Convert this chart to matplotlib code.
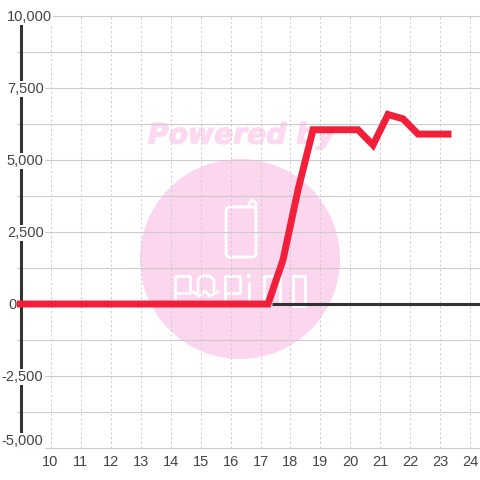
import matplotlib
matplotlib.use("Agg")
import matplotlib.pyplot as plt
import matplotlib.patheffects as pe
from matplotlib.patches import Circle, FancyBboxPatch

plt.rcParams['font.family'] = ['Liberation Sans', 'DejaVu Sans']

hours = [8.75, 9.25, 9.75, 10.25, 10.75, 11.25, 11.75, 12.25, 12.75, 13.25, 13.75, 14.25, 14.75,
         15.25, 15.75, 16.25, 16.75, 17.25, 17.75, 18.25, 18.75, 19.25, 19.75, 20.25, 20.75,
         21.25, 21.75, 22.25, 22.75, 23.25]
values = [0, 0, 0, 0, 0, 0, 0, 0, 0, 0, 0, 0, 0,
          0, 0, 0, 0, 0, 1530, 3960, 6050, 6050, 6050, 6050, 5520,
          6580, 6430, 5900, 5900, 5900]
x_ticks = list(range(10, 25))
y_major = [10000, 7500, 5000, 2500, 0, -2500, -5000]
y_labels = ['10,000', '7,500', '5,000', '2,500', '0', '-2,500', '-5,000']
y_minor = [8750, 6250, 3750, 1250, -1250, -3750]

W = 480
fig = plt.figure(figsize=(4.8, 4.8), dpi=100, facecolor='white')
bg = fig.add_axes([0, 0, 1, 1], zorder=0)
bg.set_xlim(0, W); bg.set_ylim(W, 0); bg.axis('off')
PINK = '#fbd6ee'
bg.add_patch(Circle((240, 259), 100, fc=PINK, ec='none'))
bg.text(241.5, 135.5, 'Powered by', family='DejaVu Sans', weight='bold', style='oblique',
        fontsize=20.3, color='#fcd9f0', ha='center', va='center',
        path_effects=[pe.withStroke(linewidth=0.9, foreground='#fcd9f0')])
lw_w = 2.0
bg.add_patch(FancyBboxPatch((226, 207), 30, 50, boxstyle='round,pad=0,rounding_size=4',
                            fc='none', ec='white', lw=lw_w))
bg.plot([248, 256, 256, 252, 250, 248], [207, 207, 203, 200, 202, 207], color='white', lw=lw_w)
letters = [
    [(175, 302), (175, 276), (190, 276), (190, 293), (175, 293)],
    [(198, 292), (198, 280), (201, 276), (210, 276), (214, 280), (214, 292)],
    [(193, 292), (199, 296), (205, 291), (210, 296), (218, 292)],
    [(225, 302), (225, 276), (240, 276), (240, 293), (225, 293)],
    [(249, 302), (249, 283)],
    [(264, 302), (264, 276), (280, 276), (280, 302)],
    [(293, 276), (305, 276), (305, 306), (293, 306), (293, 276)],
]
for seg in letters:
    bg.plot([p[0] for p in seg], [p[1] for p in seg], color='white', lw=lw_w, solid_joinstyle='round')
bg.add_patch(Circle((249, 276), 2.2, fc='white', ec='none'))

left, right = 17, 480
top, bottom = 16, 448
ax = fig.add_axes([left / W, 1 - bottom / W, (right - left) / W, (bottom - top) / W], zorder=1)
ax.patch.set_alpha(0)
ax.set_xlim(10 + (left - 50.5) / 30, 10 + (right - 50.5) / 30)
ax.set_ylim(-5000, 10000)
for s in ax.spines.values():
    s.set_visible(False)
ax.set_yticks([])
ax.set_xticks(x_ticks)
ax.tick_params(axis='x', length=0, pad=5, labelsize=10.5, labelcolor='#444444')

grid = '#cccccc'
for v in y_major + y_minor:
    ax.axhline(v, color=grid, lw=0.8, zorder=1, clip_on=False)
for x in x_ticks:
    ax.axvline(x, color=grid, lw=0.7, ls=(0, (2.2, 2.6)), zorder=1)

ax.plot([(20.5 - 50.5) / 30 + 10] * 2, [-5000, 10000], color='#333333', lw=2.2,
        solid_capstyle='butt', zorder=2, clip_on=False)
ax.plot([17.4, ax.get_xlim()[1]], [0, 0], color='#333333', lw=2.2, solid_capstyle='butt', zorder=2)
ax.plot(hours, values, color='#f21f3a', lw=5.0, solid_capstyle='projecting',
        solid_joinstyle='miter', zorder=4)

top_ax = fig.add_axes([0, 0, 1, 1], zorder=5)
top_ax.set_xlim(0, W); top_ax.set_ylim(W, 0); top_ax.axis('off')
label_y = {'10,000': 17, '-5,000': 441}
for v, lab in zip(y_major, y_labels):
    py = label_y.get(lab, 304 - v * 72 / 2500 + 1)
    if lab == '0':
        top_ax.text(16.5, py, lab, ha='right', va='center', fontsize=10.5, color='#444444')
        continue
    px_r = 51.5 if lab == '10,000' else 43.5
    top_ax.text(px_r, py, lab, ha='right', va='center', fontsize=10.5, color='#444444',
                bbox=dict(fc='white', ec='none', pad=1.0))

fig.savefig('out.png', dpi=100)
